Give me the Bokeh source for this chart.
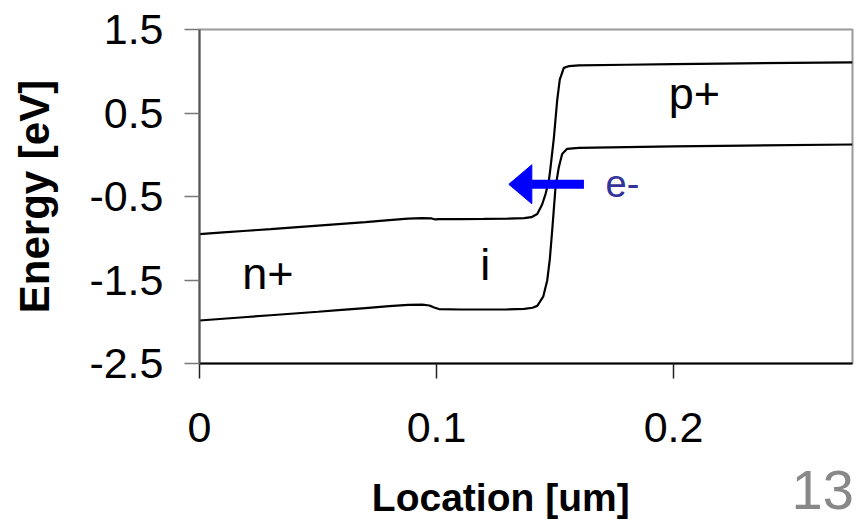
from bokeh.plotting import figure
from bokeh.models import Range1d, FixedTicker, LinearAxis, ColumnDataSource
from bokeh.embed import file_html
from bokeh.resources import INLINE
from bokeh.core.properties import value

# ---- data ----
ec_x = [0.000, 0.010, 0.020, 0.030, 0.040, 0.050, 0.060, 0.070, 0.080, 0.088,
        0.094, 0.098, 0.0995, 0.101, 0.110, 0.120, 0.130, 0.137, 0.140, 0.1425,
        0.1445, 0.146, 0.1474, 0.1481, 0.1495, 0.1509, 0.152, 0.1537, 0.156,
        0.160, 0.180, 0.200, 0.220, 0.250, 0.2755]
ec_y = [-0.950, -0.930, -0.910, -0.890, -0.869, -0.848, -0.827, -0.806, -0.783, -0.766,
        -0.760, -0.763, -0.775, -0.772, -0.770, -0.768, -0.765, -0.760, -0.748, -0.710,
        -0.600, -0.470, -0.310, -0.150, 0.200, 0.650, 0.900, 1.040, 1.062,
        1.070, 1.078, 1.085, 1.092, 1.100, 1.107]

ev_x = [0.000, 0.010, 0.020, 0.030, 0.040, 0.050, 0.060, 0.070, 0.080, 0.088,
        0.094, 0.097, 0.099, 0.101, 0.110, 0.120, 0.130, 0.137, 0.1405, 0.1425,
        0.145, 0.1467, 0.1478, 0.1488, 0.1502, 0.1516, 0.153, 0.1551, 0.160,
        0.180, 0.200, 0.230, 0.2755]
ev_y = [-1.985, -1.964, -1.943, -1.922, -1.901, -1.880, -1.858, -1.836, -1.814, -1.797,
        -1.795, -1.805, -1.830, -1.848, -1.853, -1.853, -1.851, -1.845, -1.832, -1.810,
        -1.700, -1.506, -1.250, -0.907, -0.389, -0.149, 0.010, 0.071, 0.083,
        0.092, 0.100, 0.110, 0.123]

x_ticks = [0, 0.1, 0.2]
x_tick_labels = ["0", "0.1", "0.2"]
y_ticks = [-2.5, -1.5, -0.5, 0.5, 1.5]
y_tick_labels = ["-2.5", "-1.5", "-0.5", "0.5", "1.5"]

x_title = "Location [um]"
x_title_pos = 0.1271
y_title = "Energy [eV]"

region_names = ["n+", "i", "p+"]
region_x = [0.018, 0.1185, 0.198]
region_y = [-1.59, -1.48, 0.57]

arrow_tail_x = 0.1622
arrow_tip_x = 0.1305
arrow_y = -0.354
electron_label = "e-"
electron_x = 0.1713
electron_y = -0.488

page_number = "13"
page_number_pos = 0.2629

# ---- figure ----
p = figure(width=856, height=528, output_backend="svg", toolbar_location=None,
           x_range=Range1d(0, 0.2755), y_range=Range1d(-2.5, 1.5),
           min_border_left=199, min_border_right=4, min_border_top=29,
           min_border_bottom=165, background_fill_color="white",
           border_fill_color="white")
p.grid.visible = False
p.outline_line_color = "#9a9a9a"
p.outline_line_width = 2

FONT = value("Liberation Sans")

p.line(ec_x, ec_y, line_color="black", line_width=2.2)
p.line(ev_x, ev_y, line_color="black", line_width=2.2)

src = ColumnDataSource(dict(x=region_x, y=region_y, t=region_names))
p.text(x="x", y="y", text="t", source=src, text_font=FONT, text_font_size="45px",
       text_color="black", text_align="left", text_baseline="alphabetic", y_offset=-14)

# arrow: shaft + head (head size in pixels converted to data units)
px_x = 0.2755 / 653.0
px_y = 4.0 / 334.0
head_len = 23 * px_x
head_half = 19.5 * px_y
p.segment(x0=[arrow_tail_x], y0=[arrow_y], x1=[arrow_tip_x + head_len], y1=[arrow_y],
          line_color="#0000ff", line_width=9)
p.patch([arrow_tip_x, arrow_tip_x + head_len, arrow_tip_x + head_len],
        [arrow_y, arrow_y + head_half, arrow_y - head_half],
        fill_color="#0000ff", line_color="#0000ff", line_width=1)
p.text(x=[electron_x], y=[electron_y], text=[electron_label], text_font=FONT,
       text_font_size="38px", text_color="#333399", text_align="left",
       text_baseline="alphabetic", y_offset=-12)

# ---- axes ----
xa = p.xaxis[0]
xa.ticker = FixedTicker(ticks=x_ticks)
xa.major_label_overrides = {t: l for t, l in zip(x_ticks, x_tick_labels)}
xa.minor_tick_line_color = None
xa.major_tick_in = 0
xa.major_tick_out = 15
xa.major_tick_line_color = "#222222"
xa.major_tick_line_width = 1.5
xa.axis_line_color = "black"
xa.axis_line_width = 2
xa.major_label_text_font = "Liberation Sans"
xa.major_label_text_font_size = "43px"
xa.major_label_text_color = "black"
xa.major_label_standoff = 34

# x title (bold, placed off-centre as in the reference)
xt = LinearAxis(ticker=FixedTicker(ticks=[x_title_pos]),
                major_label_overrides={x_title_pos: x_title})
xt.axis_line_color = None
xt.major_tick_line_color = None
xt.minor_tick_line_color = None
xt.major_tick_in = 0
xt.major_tick_out = 0
xt.major_label_text_font = "Liberation Sans"
xt.major_label_text_font_style = "bold"
xt.major_label_text_font_size = "39px"
xt.major_label_text_color = "black"
xt.major_label_standoff = 31
p.add_layout(xt, "below")

# page number (grey, bottom right)
pn = LinearAxis(ticker=FixedTicker(ticks=[page_number_pos]),
                major_label_overrides={page_number_pos: page_number})
pn.axis_line_color = None
pn.major_tick_line_color = None
pn.minor_tick_line_color = None
pn.major_tick_in = 0
pn.major_tick_out = 0
pn.major_label_text_font = "Liberation Sans"
pn.major_label_text_font_size = "56px"
pn.major_label_text_color = "#888888"
pn.major_label_standoff = -51
p.add_layout(pn, "below")

ya = p.yaxis[0]
ya.ticker = FixedTicker(ticks=y_ticks)
ya.major_label_overrides = {t: l for t, l in zip(y_ticks, y_tick_labels)}
ya.minor_tick_line_color = None
ya.major_tick_in = 0
ya.major_tick_out = 15
ya.major_tick_line_color = "#777777"
ya.major_tick_line_width = 1.5
ya.axis_line_color = "#555555"
ya.axis_line_width = 2
ya.major_label_text_font = "Liberation Sans"
ya.major_label_text_font_size = "43px"
ya.major_label_text_color = "black"
ya.major_label_standoff = 21
ya.axis_label = y_title
ya.axis_label_text_font = "Liberation Sans"
ya.axis_label_text_font_style = "bold"
ya.axis_label_text_font_size = "42px"
ya.axis_label_text_color = "black"
ya.axis_label_standoff = 28

open("out.html", "w").write(file_html(p, INLINE))
